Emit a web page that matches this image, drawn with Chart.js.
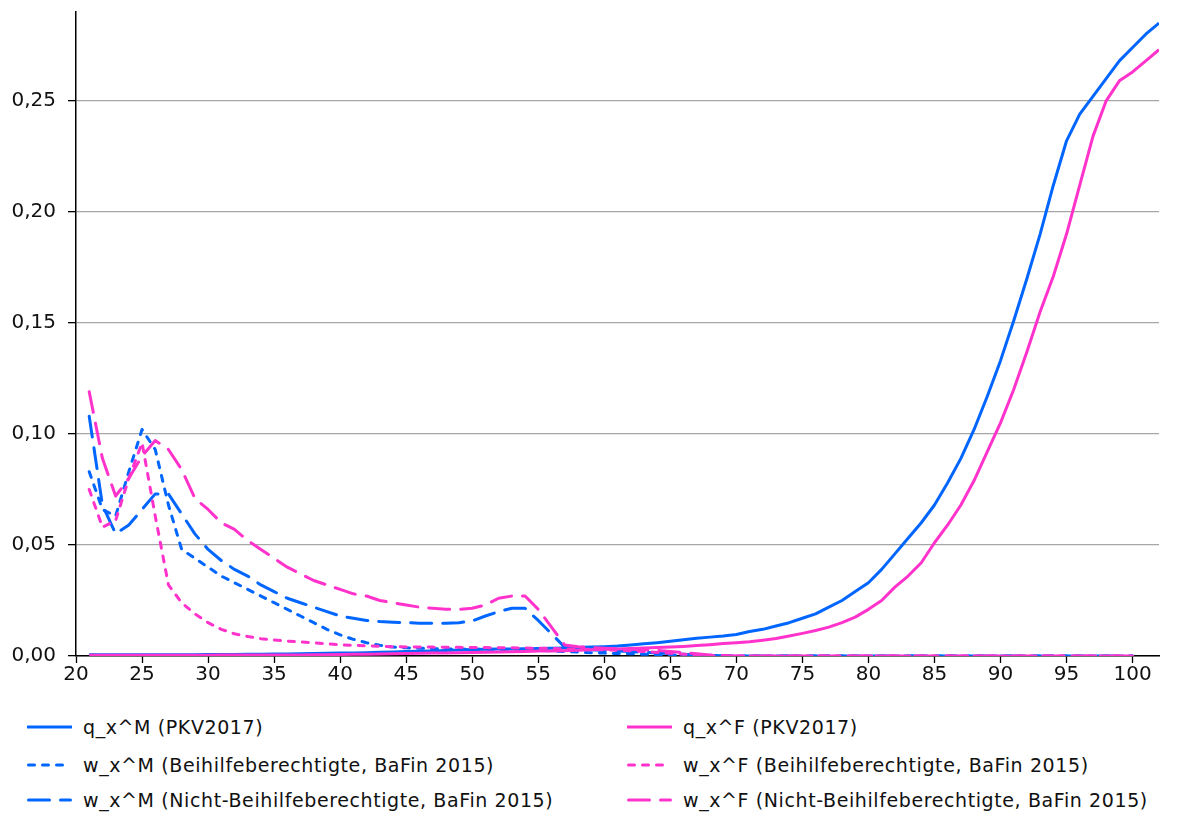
<!DOCTYPE html>
<html>
<head>
<meta charset="utf-8">
<script src="https://cdn.jsdelivr.net/npm/chart.js@4.4.1/dist/chart.umd.min.js"></script>
<style>
  html, body { margin: 0; padding: 0; background: #fff; }
  body { width: 1181px; height: 817px; overflow: hidden; position: relative;
         font-family: "DejaVu Sans", Verdana, sans-serif; color: #111; }
  #chartBox { position: absolute; left: 0; top: 0; width: 1181px; height: 690px; }
  .leg { position: absolute; height: 26px; display: flex; align-items: center;
         font-size: 19px; letter-spacing: 0.6px; white-space: nowrap; }
  .leg svg { margin-right: 11px; }
</style>
</head>
<body>
<div id="chartBox"><canvas id="mortChart" width="1181" height="690"></canvas></div>
<div id="legend"></div>

<script>
const BLUE = '#0066FF';
const PINK = '#FF33CC';

// Alter (x-Achse)
const ages = [21, 22, 23, 24, 25, 26, 27, 28, 29, 30,
  31, 32, 33, 34, 35, 36, 37, 38, 39, 40,
  41, 42, 43, 44, 45, 46, 47, 48, 49, 50,
  51, 52, 53, 54, 55, 56, 57, 58, 59, 60,
  61, 62, 63, 64, 65, 66, 67, 68, 69, 70,
  71, 72, 73, 74, 75, 76, 77, 78, 79, 80,
  81, 82, 83, 84, 85, 86, 87, 88, 89, 90,
  91, 92, 93, 94, 95, 96, 97, 98, 99, 100,
  101, 102];

// tick labels
const xTicks = [20, 25, 30, 35, 40, 45, 50, 55, 60, 65, 70, 75, 80, 85, 90, 95, 100];
const yTicks = [0, 0.05, 0.10, 0.15, 0.20, 0.25];

// q_x^M (PKV2017), Alter 21..102
const qM = [0.0006, 0.0006, 0.0006, 0.0006, 0.0006, 0.0006, 0.0006, 0.0006, 0.0006, 0.0007,
  0.0007, 0.0007, 0.0008, 0.0008, 0.0009, 0.0009, 0.0010, 0.0011, 0.0012, 0.0013,
  0.0014, 0.0015, 0.0017, 0.0018, 0.0020, 0.0021, 0.0023, 0.0025, 0.0027, 0.0029,
  0.0030, 0.0031, 0.0032, 0.0033, 0.0034, 0.0035, 0.0036, 0.0038, 0.0040, 0.0042,
  0.0045, 0.0050, 0.0055, 0.0060, 0.0066, 0.0073, 0.0080, 0.0085, 0.0090, 0.0097,
  0.0110, 0.0120, 0.0135, 0.0150, 0.0170, 0.0190, 0.0220, 0.0250, 0.0290, 0.0330,
  0.0390, 0.0460, 0.0530, 0.0600, 0.0680, 0.0780, 0.0890, 0.1020, 0.1170, 0.1330,
  0.1510, 0.1700, 0.1900, 0.2120, 0.2320, 0.2440, 0.2520, 0.2600, 0.2680, 0.2740,
  0.2800, 0.2850];

// q_x^F (PKV2017), Alter 21..102
const qF = [0.0003, 0.0003, 0.0003, 0.0003, 0.0003, 0.0003, 0.0003, 0.0003, 0.0003, 0.0003,
  0.0004, 0.0004, 0.0004, 0.0004, 0.0005, 0.0005, 0.0005, 0.0006, 0.0006, 0.0007,
  0.0008, 0.0008, 0.0009, 0.0010, 0.0011, 0.0012, 0.0013, 0.0014, 0.0015, 0.0016,
  0.0017, 0.0018, 0.0019, 0.0020, 0.0022, 0.0023, 0.0024, 0.0026, 0.0028, 0.0030,
  0.0032, 0.0034, 0.0036, 0.0038, 0.0040, 0.0043, 0.0047, 0.0051, 0.0056, 0.0060,
  0.0064, 0.0071, 0.0079, 0.0090, 0.0102, 0.0115, 0.0130, 0.0150, 0.0175, 0.0210,
  0.0250, 0.0310, 0.0360, 0.0420, 0.0510, 0.0590, 0.0680, 0.0790, 0.0920, 0.1050,
  0.1200, 0.1370, 0.1550, 0.1710, 0.1900, 0.2120, 0.2340, 0.2500, 0.2590, 0.2630,
  0.2680, 0.2730];

// w_x^M (Beihilfeberechtigte, BaFin 2015), Alter 21..100
const wMB = [0.083, 0.066, 0.063, 0.083, 0.102, 0.093, 0.068, 0.048, 0.044, 0.040,
  0.036, 0.033, 0.030, 0.027, 0.024, 0.021, 0.018, 0.015, 0.012, 0.0095,
  0.0075, 0.0060, 0.0048, 0.0040, 0.0037, 0.0035, 0.0033, 0.0032, 0.0031, 0.0030,
  0.0030, 0.0029, 0.0028, 0.0027, 0.0026, 0.0023, 0.0020, 0.0018, 0.0015, 0.0013,
  0.0011, 0.0010, 0.0008, 0.0006, 0.0005, 0.0004, 0.0003, 0.0002, 0.0001, 0,
  0, 0, 0, 0, 0, 0, 0, 0, 0, 0,
  0, 0, 0, 0, 0, 0, 0, 0, 0, 0,
  0, 0, 0, 0, 0, 0, 0, 0, 0, 0];

// w_x^M (Nicht-Beihilfeberechtigte, BaFin 2015), Alter 21..100
const wMN = [0.108, 0.068, 0.055, 0.059, 0.066, 0.073, 0.073, 0.064, 0.055, 0.048,
  0.043, 0.039, 0.036, 0.032, 0.029, 0.026, 0.024, 0.022, 0.020, 0.018,
  0.017, 0.016, 0.0155, 0.0152, 0.0150, 0.0148, 0.0147, 0.0147, 0.0150, 0.0158,
  0.0180, 0.0200, 0.0215, 0.0215, 0.0160, 0.0100, 0.0040, 0.0032, 0.0028, 0.0025,
  0.0022, 0.0020, 0.0017, 0.0014, 0.0011, 0.0008, 0.0005, 0.0003, 0.0001, 0,
  0, 0, 0, 0, 0, 0, 0, 0, 0, 0,
  0, 0, 0, 0, 0, 0, 0, 0, 0, 0,
  0, 0, 0, 0, 0, 0, 0, 0, 0, 0];

// w_x^F (Beihilfeberechtigte, BaFin 2015), Alter 21..100
const wFB = [0.075, 0.058, 0.061, 0.080, 0.096, 0.063, 0.032, 0.024, 0.019, 0.015,
  0.012, 0.010, 0.0088, 0.0078, 0.0072, 0.0067, 0.0063, 0.0060, 0.0055, 0.0050,
  0.0048, 0.0046, 0.0044, 0.0042, 0.0041, 0.0040, 0.0040, 0.0039, 0.0039, 0.0038,
  0.0038, 0.0037, 0.0037, 0.0036, 0.0035, 0.0034, 0.0032, 0.0030, 0.0030, 0.0028,
  0.0026, 0.0024, 0.0020, 0.0016, 0.0012, 0.0008, 0.0005, 0.0002, 0, 0,
  0, 0, 0, 0, 0, 0, 0, 0, 0, 0,
  0, 0, 0, 0, 0, 0, 0, 0, 0, 0,
  0, 0, 0, 0, 0, 0, 0, 0, 0, 0];

// w_x^F (Nicht-Beihilfeberechtigte, BaFin 2015), Alter 21..100
const wFN = [0.119, 0.089, 0.072, 0.080, 0.090, 0.097, 0.093, 0.084, 0.071, 0.066,
  0.060, 0.057, 0.052, 0.048, 0.044, 0.040, 0.037, 0.034, 0.032, 0.030,
  0.028, 0.027, 0.025, 0.024, 0.023, 0.022, 0.0215, 0.021, 0.021, 0.0215,
  0.023, 0.026, 0.027, 0.027, 0.021, 0.013, 0.005, 0.0042, 0.0038, 0.0035,
  0.0032, 0.0030, 0.0028, 0.0025, 0.0020, 0.0015, 0.0010, 0.0005, 0.0002, 0,
  0, 0, 0, 0, 0, 0, 0, 0, 0, 0,
  0, 0, 0, 0, 0, 0, 0, 0, 0, 0,
  0, 0, 0, 0, 0, 0, 0, 0, 0, 0];

const SHORT_DASH = [6, 8];
const LONG_DASH = [21, 11];
const FONT = '"DejaVu Sans", Verdana, sans-serif';

function points(values) {
  return values.map((v, i) => ({ x: ages[i], y: v }));
}

function series(label, values, color, dash, order) {
  return {
    label: label,
    data: points(values),
    borderColor: color,
    borderWidth: 3,
    borderDash: dash,
    borderCapStyle: dash.length ? 'round' : 'butt',
    borderJoinStyle: 'round',
    pointRadius: 0,
    tension: 0,
    fill: false,
    order: order
  };
}

// legend: left column = men, right column = women
const legendItems = [
  { label: 'q_x^M (PKV2017)', color: BLUE, dash: [], col: 0, row: 0 },
  { label: 'w_x^M (Beihilfeberechtigte, BaFin 2015)', color: BLUE, dash: SHORT_DASH, col: 0, row: 1 },
  { label: 'w_x^M (Nicht-Beihilfeberechtigte, BaFin 2015)', color: BLUE, dash: LONG_DASH, col: 0, row: 2 },
  { label: 'q_x^F (PKV2017)', color: PINK, dash: [], col: 1, row: 0 },
  { label: 'w_x^F (Beihilfeberechtigte, BaFin 2015)', color: PINK, dash: SHORT_DASH, col: 1, row: 1 },
  { label: 'w_x^F (Nicht-Beihilfeberechtigte, BaFin 2015)', color: PINK, dash: LONG_DASH, col: 1, row: 2 }
];

// pink drawn on top of blue (lower order = drawn later)
const datasets = [
  series(legendItems[0].label, qM, BLUE, [], 5),
  series(legendItems[1].label, wMB, BLUE, SHORT_DASH, 4),
  series(legendItems[2].label, wMN, BLUE, LONG_DASH, 3),
  series(legendItems[3].label, qF, PINK, [], 2),
  series(legendItems[4].label, wFB, PINK, SHORT_DASH, 1),
  series(legendItems[5].label, wFN, PINK, LONG_DASH, 0)
];

function fixedTicks(list) {
  return function (scale) {
    scale.ticks = list.map(v => ({ value: v }));
  };
}

new Chart(document.getElementById('mortChart').getContext('2d'), {
  type: 'line',
  data: { datasets },
  options: {
    responsive: false,
    animation: false,
    layout: { padding: { left: 0, right: 22, top: 12, bottom: 0 } },
    plugins: { legend: { display: false }, tooltip: { enabled: false } },
    scales: {
      x: {
        type: 'linear',
        min: 20,
        max: 102,
        ticks: { color: '#111', font: { family: FONT, size: 20 }, padding: 0, maxRotation: 0, autoSkip: false },
        grid: { drawOnChartArea: false, drawTicks: true, tickLength: 7, tickColor: '#000', tickWidth: 1.3 },
        border: { color: '#000', width: 1.5 },
        afterBuildTicks: fixedTicks(xTicks),
        afterFit: s => { s.height = 34; s.paddingLeft = 0; s.paddingRight = 0; }
      },
      y: {
        min: 0,
        max: 0.29,
        ticks: {
          color: '#111',
          font: { family: FONT, size: 20 },
          padding: 12,
          callback: v => v.toFixed(2).replace('.', ',')
        },
        grid: { color: '#A6A6A6', lineWidth: 1.3, tickLength: 8, tickColor: '#000', tickWidth: 1.3 },
        border: { color: '#000', width: 1.5 },
        afterBuildTicks: fixedTicks(yTicks),
        afterFit: s => { s.width = 76; s.paddingTop = 0; s.paddingBottom = 0; }
      }
    }
  }
});

/* =========================
   HTML LEGEND (2 columns)
========================= */
const legendBox = document.getElementById('legend');
const colX = [27, 627];
const rowY = [727, 765, 800];

legendItems.forEach(item => {
  const div = document.createElement('div');
  div.className = 'leg';
  div.style.left = colX[item.col] + 'px';
  div.style.top = (rowY[item.row] - 13) + 'px';
  const dash = item.dash.length ? ` stroke-dasharray="${item.dash.join(' ')}" stroke-linecap="round"` : '';
  div.innerHTML = `<svg width="45" height="6"><line x1="${item.dash.length ? 1.5 : 0}" y1="3" x2="${item.dash.length ? 43.5 : 45}" y2="3"
    stroke="${item.color}" stroke-width="3"${dash}/></svg><span>${item.label}</span>`;
  legendBox.appendChild(div);
});
</script>
</body>
</html>
